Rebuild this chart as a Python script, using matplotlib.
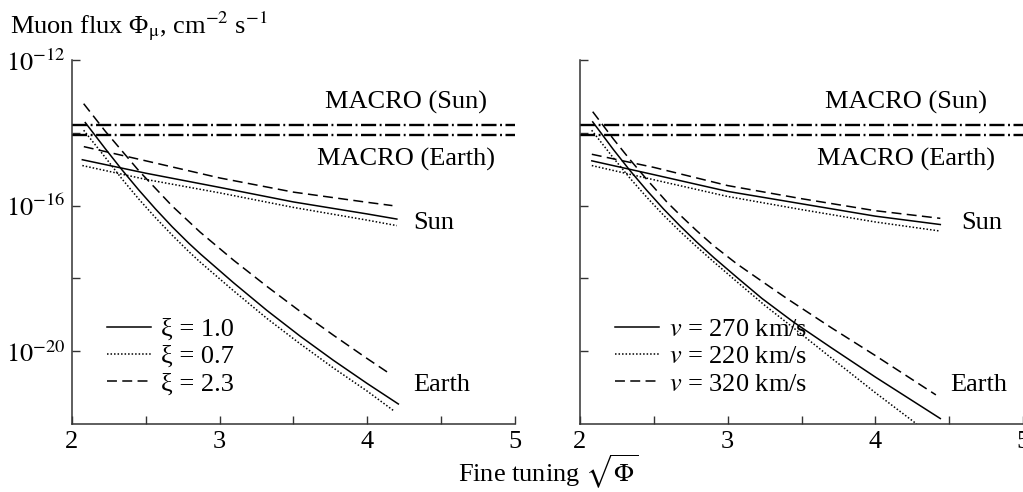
import numpy as np
import matplotlib
matplotlib.use("Agg")
import matplotlib.pyplot as plt
from matplotlib.ticker import FixedLocator, NullFormatter

plt.rcParams['font.family'] = ['Liberation Serif', 'DejaVu Serif']
plt.rcParams['mathtext.fontset'] = 'stix'

# log10 of muon flux
# left panel: xi = 1.0 / 0.7 / 2.3
l_sun_x1 = [2.07, 2.5, 3.0, 3.5, 4.0, 4.2]
l_sun_y1 = [-14.74, -15.11, -15.5, -15.9, -16.23, -16.37]
l_sun_x2 = [2.07, 2.5, 3.0, 3.5, 4.0, 4.2]
l_sun_y2 = [-14.9, -15.28, -15.65, -16.05, -16.4, -16.55]
l_sun_x3 = [2.08, 2.5, 3.0, 3.5, 4.0, 4.17]
l_sun_y3 = [-14.38, -14.77, -15.24, -15.63, -15.91, -16.0]

l_earth_x1 = [2.09, 2.226, 2.339, 2.452, 2.565, 2.678, 2.79, 2.87, 3.094, 3.32, 3.546, 3.77, 4.0, 4.21]
l_earth_y1 = [-13.72, -14.44, -15.02, -15.57, -16.09, -16.58, -17.03, -17.33, -18.12, -18.88,
              -19.59, -20.25, -20.89, -21.45]
l_earth_x2 = [2.079, 2.226, 2.339, 2.452, 2.565, 2.678, 2.79, 2.87, 3.094, 3.32, 3.546, 3.77, 4.0, 4.18]
l_earth_y2 = [-13.93, -14.68, -15.27, -15.82, -16.33, -16.81, -17.26, -17.56, -18.34, -19.1,
              -19.8, -20.46, -21.1, -21.64]
l_earth_x3 = [2.079, 2.226, 2.452, 2.678, 2.868, 3.094, 3.32, 3.546, 3.77, 3.998, 4.156]
l_earth_y3 = [-13.2, -13.96, -15.04, -16.01, -16.73, -17.5, -18.22, -18.91, -19.56, -20.2, -20.63]

# right panel: v = 270 / 220 / 320 km/s
r_sun_x1 = [2.08, 2.5, 3.0, 3.5, 4.0, 4.44]
r_sun_y1 = [-14.77, -15.15, -15.61, -15.95, -16.29, -16.52]
r_sun_x2 = [2.08, 2.5, 3.0, 3.5, 4.0, 4.44]
r_sun_y2 = [-14.9, -15.29, -15.75, -16.11, -16.45, -16.7]
r_sun_x3 = [2.08, 2.5, 3.0, 3.5, 4.0, 4.44]
r_sun_y3 = [-14.59, -14.95, -15.45, -15.81, -16.14, -16.35]

r_earth_x1 = [2.086, 2.226, 2.339, 2.452, 2.565, 2.678, 2.79, 2.904, 3.062, 3.232, 3.446, 3.7, 4.0, 4.44]
r_earth_y1 = [-13.7, -14.46, -15.04, -15.58, -16.09, -16.56, -17.0, -17.42, -17.97, -18.55,
              -19.2, -19.9, -20.71, -21.85]
r_earth_x2 = [2.079, 2.226, 2.339, 2.452, 2.565, 2.678, 2.79, 2.904, 3.062, 3.254, 3.446, 3.7, 4.0, 4.28]
r_earth_y2 = [-13.93, -14.69, -15.25, -15.77, -16.26, -16.71, -17.13, -17.54, -18.09, -18.75,
              -19.36, -20.18, -21.14, -22.0]
r_earth_x3 = [2.086, 2.226, 2.339, 2.452, 2.588, 2.678, 2.79, 2.904, 3.062, 3.25, 3.4, 3.7, 4.0, 4.41]
r_earth_y3 = [-13.42, -14.17, -14.74, -15.28, -15.9, -16.26, -16.69, -17.1, -17.6, -18.13,
              -18.55, -19.35, -20.12, -21.2]

macro_sun = 1.6e-14
macro_earth = 8.7e-15

left_labels = ['ξ = 1.0', 'ξ = 0.7', 'ξ = 2.3']
right_labels = ['$v$ = 270 km/s', '$v$ = 220 km/s', '$v$ = 320 km/s']

styles = [dict(ls='-'), dict(ls=(0, (1.0, 1.3))), dict(ls=(0, (6.5, 3.5)))]
macro_ls = (0, (6.4, 1.5, 0.8, 1.5))

fig = plt.figure(figsize=(10.23, 4.92), dpi=100)
ax1 = fig.add_axes([72/1023, 68/492, 443/1023, 364/492])
ax2 = fig.add_axes([580/1023, 68/492, 443/1023, 364/492])

panels = [
    (ax1, [(l_sun_x1, l_sun_y1), (l_sun_x2, l_sun_y2), (l_sun_x3, l_sun_y3)],
     [(l_earth_x1, l_earth_y1), (l_earth_x2, l_earth_y2), (l_earth_x3, l_earth_y3)],
     left_labels, 4.26, (4.31, 4.31)),
    (ax2, [(r_sun_x1, r_sun_y1), (r_sun_x2, r_sun_y2), (r_sun_x3, r_sun_y3)],
     [(r_earth_x1, r_earth_y1), (r_earth_x2, r_earth_y2), (r_earth_x3, r_earth_y3)],
     right_labels, 4.21, (4.58, 4.51)),
]

for ax, suns, earths, labels, mx, (sx, ex) in panels:
    handles = []
    for i in range(3):
        h, = ax.plot(earths[i][0], 10.0**np.array(earths[i][1]), color='black', lw=1.1, **styles[i])
        ax.plot(suns[i][0], 10.0**np.array(suns[i][1]), color='black', lw=1.1, **styles[i])
        handles.append(h)
    ax.axhline(macro_sun, color='black', lw=1.7, ls=macro_ls)
    ax.axhline(macro_earth, color='black', lw=1.7, ls=macro_ls)

    ax.text(mx, 10**-13.18, 'MACRO (Sun)', ha='center', va='center', fontsize=19)
    ax.text(mx, 10**-14.74, 'MACRO (Earth)', ha='center', va='center', fontsize=19)
    ax.text(sx, 10**-16.47, 'Sun', ha='left', va='center', fontsize=19)
    ax.text(ex, 10**-20.94, 'Earth', ha='left', va='center', fontsize=19)

    ax.set_yscale('log')
    ax.set_xlim(2, 5)
    ax.set_ylim(1e-22, 1e-12)
    ax.xaxis.set_major_locator(FixedLocator([2, 3, 4, 5]))
    ax.xaxis.set_minor_locator(FixedLocator([2.5, 3.5, 4.5]))
    ax.yaxis.set_major_locator(FixedLocator([1e-20, 1e-16, 1e-12]))
    ax.yaxis.set_minor_locator(FixedLocator([1e-18, 1e-14]))
    ax.yaxis.set_minor_formatter(NullFormatter())
    ax.set_xticklabels(['2', '3', '4', '5'])
    ax.set_yticklabels(['$10^{-20}$', '$10^{-16}$', '$10^{-12}$'])
    ax.tick_params(which='both', direction='in', length=6, width=1.0, color='#333333',
                   labelsize=19, pad=5)
    for side in ['top', 'right']:
        ax.spines[side].set_visible(False)
    for side in ['left', 'bottom']:
        ax.spines[side].set_color('#333333')
        ax.spines[side].set_linewidth(1.1)

    leg = ax.legend(handles, labels, loc='lower left', bbox_to_anchor=(0.078, 0.078),
                    frameon=False, fontsize=19, handlelength=1.67, handletextpad=0.4,
                    labelspacing=0.15, borderpad=0, borderaxespad=0)

ax2.tick_params(axis='y', labelleft=False)

fig.text(10/1023, 1 - 33/492, 'Muon flux Φ$_\\mathrm{μ}$, cm$^{-2}$ s$^{-1}$', fontsize=19,
         ha='left', va='baseline')
fig.text(548/1023, 1 - 472/492, 'Fine tuning $\\sqrt{\\Phi}$', fontsize=19, ha='center', va='center')

fig.savefig('out.png', dpi=100)
